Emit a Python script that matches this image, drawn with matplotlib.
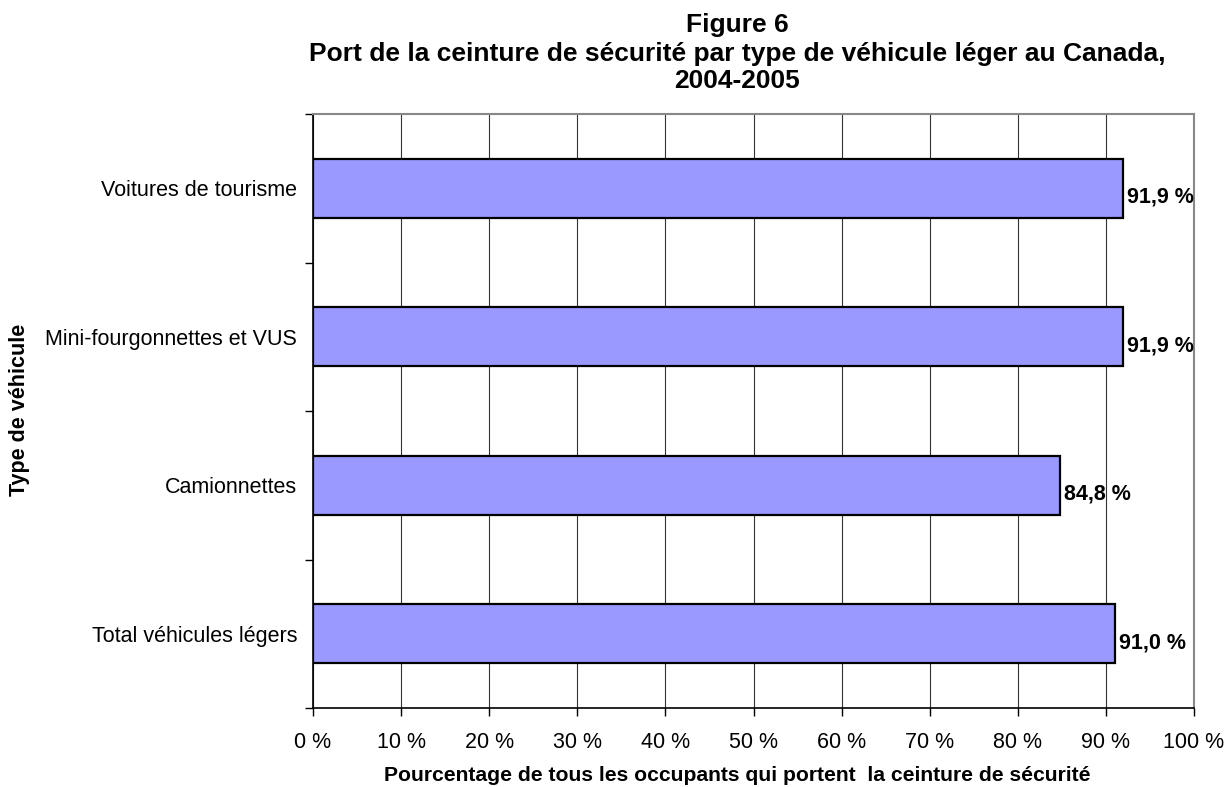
import matplotlib.pyplot as plt

plt.rcParams['font.family'] = ['Liberation Sans', 'DejaVu Sans']

categories = ["Voitures de tourisme", "Mini-fourgonnettes et VUS", "Camionnettes", "Total véhicules légers"]
values = [91.9, 91.9, 84.8, 91.0]
value_labels = ["91,9 %", "91,9 %", "84,8 %", "91,0 %"]
xticks = list(range(0, 101, 10))
xtick_labels = [f"{t} %" for t in xticks]
title_lines = ["Figure 6",
               "Port de la ceinture de sécurité par type de véhicule léger au Canada,",
               "2004-2005"]

W, H = 1231, 787
fig = plt.figure(figsize=(W / 100, H / 100), dpi=100)
ax = fig.add_axes([313 / W, 79 / H, 881 / W, 594 / H])

pos = list(range(len(categories)))[::-1]
ax.barh(pos, values, height=0.4, color="#9999FF", edgecolor="black", linewidth=1.6, zorder=3)

for y, v, lab in zip(pos, values, value_labels):
    ax.text(v + 0.45, y - 0.06, lab, va="center", ha="left", fontsize=15.5, fontweight="bold", zorder=4)

ax.set_xticks(xticks)
ax.set_xticklabels(xtick_labels, fontsize=15.5)
ax.set_yticks(pos)
ax.set_yticklabels(categories, fontsize=15.5)
ax.tick_params(axis="y", length=0, pad=11.5)
ax.set_yticks([p + 0.5 for p in range(-1, len(categories))], minor=True)
ax.tick_params(axis="y", which="minor", length=6, width=1, color="black")
ax.tick_params(axis="x", length=6, width=1, pad=11)
ax.set_xlim(0, 100)
ax.set_ylim(-0.5, len(categories) - 0.5)

ax.grid(axis="x", color="#333333", linewidth=0.8, zorder=0)

for side in ["top", "right"]:
    ax.spines[side].set_color("#888888")
    ax.spines[side].set_linewidth(1.5)
for side in ["left", "bottom"]:
    ax.spines[side].set_color("black")
    ax.spines[side].set_linewidth(1.2)

# axis titles
fig.text(737 / W, 1 - 781 / H, "Pourcentage de tous les occupants qui portent  la ceinture de sécurité",
         ha="center", va="baseline", fontsize=15.2, fontweight="bold")
fig.text(20 / W, 1 - 410 / H, "Type de véhicule", rotation=90,
         ha="center", va="center", fontsize=15.5, fontweight="bold")

# chart title, one line at a time
for line, base in zip(title_lines, [32, 61, 88]):
    fig.text(737 / W, 1 - base / H, line, ha="center", va="baseline", fontsize=19, fontweight="bold")

fig.savefig("out.png", dpi=100)
